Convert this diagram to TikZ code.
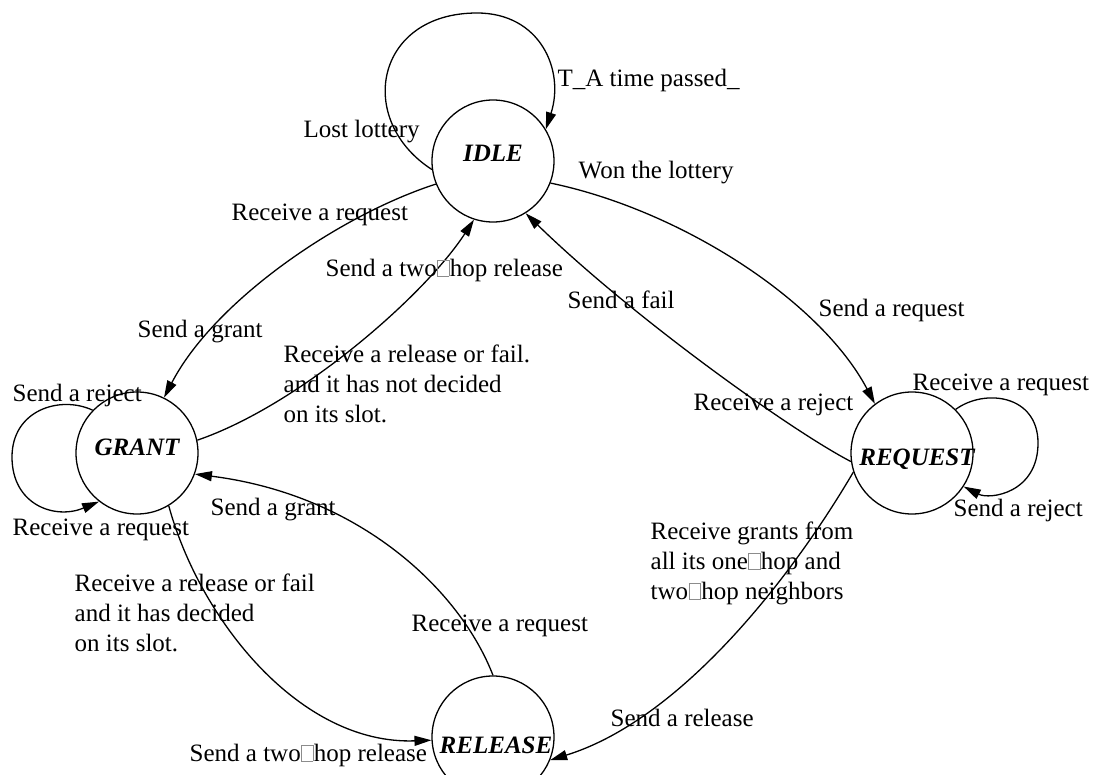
\documentclass[tikz,border=0pt]{standalone}
\usepackage{fontspec}
\setmainfont{Liberation Serif}
\usetikzlibrary{arrows.meta}

\newcommand{\nohyph}{\kern0.3pt{\color{black!45}\setlength{\fboxsep}{0pt}\setlength{\fboxrule}{0.35pt}\fbox{\rule{0pt}{0.62em}\hspace{0.42em}}}\kern0.3pt}
\newcommand{\statename}[3]{\raisebox{#2}[0pt][0pt]{\makebox[0pt][c]{\kern#1\relax #3\kern-#1\relax}}}

\begin{document}
\begin{tikzpicture}[
                          x=0.5pt, y=-0.5pt,
                          line width=0.65pt,
                          every node/.style={font=\fontsize{12.5}{15}\selectfont},
                          state/.style={draw,circle,minimum size=61pt,inner sep=0pt,font=\fontsize{12.5}{15}\selectfont\bfseries\itshape},
                          trans/.style={-{Triangle[length=8.5pt,width=5pt]}},
                          lbl/.style={inner sep=0pt,anchor=west},
                          lblmulti/.style={inner sep=0pt,anchor=north west,align=left}
                        ]
                        \useasboundingbox (0,0) rectangle (1097,775);

                        \node[state] (idle) at (493,161) {\statename{0pt}{-0.3pt}{IDLE}};
                        \node[state] (grant) at (137,453) {\statename{0pt}{-1pt}{GRANT}};
                        \node[state] (request) at (912,453) {\statename{2.5pt}{-6pt}{REQUEST}};
                        \node[state] (release) at (493,737) {\statename{1.5pt}{-8pt}{RELEASE}};

                        % self loops
                        \draw[trans] (idle.188) .. controls (355,120) and (375,13) .. (477,13) .. controls (540,13) and (565,70) .. (idle.31);
                        \draw[trans] (grant.136) .. controls (60,395) and (12,410) .. (12,457) .. controls (12,505) and (55,520) .. (grant.232);
                        \draw[trans] (request.45) .. controls (985,388) and (1038,395) .. (1038,443) .. controls (1038,493) and (990,500) .. (request.327);

                        % transitions between states
                        \draw[trans] (idle.202) .. controls (340,215) and (215,300) .. (grant.64);
                        \draw[trans] (grant.12) .. controls (300,405) and (425,295) .. (idle.252);
                        \draw[trans] (idle.339) .. controls (680,210) and (820,300) .. (request.127);
                        \draw[trans] (request.188) .. controls (790,430) and (630,315) .. (idle.302);
                        \draw[trans] (request.198) .. controls (790,580) and (680,720) .. (release.338);
                        \draw[trans] (release.90) .. controls (460,590) and (360,495) .. (grant.340);
                        \draw[trans] (grant.301) .. controls (200,620) and (300,745) .. (release.183);

                        \foreach \n/\x/\y/\t in {
                            timeout/557/80/T\_A time passed\_,
                            lost/303/132/Lost lottery,
                            won/578/173/Won the lottery,
                            recvreqidle/231/215/Receive a request,
                            twohopidle/325/270/Send a two\nohyph hop release,
                            sendfail/567/300/Send a fail,
                            sendreq/818/310/Send a request,
                            sendgrant/137/332/Send a grant,
                            rejectgrant/12/395/Send a reject,
                            recvreject/693/405/Receive a reject,
                            recvreqreq/912/385/Receive a request,
                            rejectreq/953/510/Send a reject,
                            recvreqgrant/12/530/Receive a request,
                            grantback/210/510/Send a grant,
                            recvreqrel/411/626/Receive a request,
                            sendrel/610/718/Send a release,
                            twohoprel/189/755/Send a two\nohyph hop release} {
                            \node[lbl] (\n) at (\x,\y) {\t};
                          }

                        \node[lblmulti] (notdecided) at (283,344) {Receive a release or fail.\\and it has not decided\\on its slot.};
                        \node[lblmulti] (allgrants) at (650,521) {Receive grants from\\all its one\nohyph hop and\\two\nohyph hop neighbors};
                        \node[lblmulti] (decided) at (74,573) {Receive a release or fail\\and it has decided\\on its slot.};
                      \end{tikzpicture}
\end{document}
